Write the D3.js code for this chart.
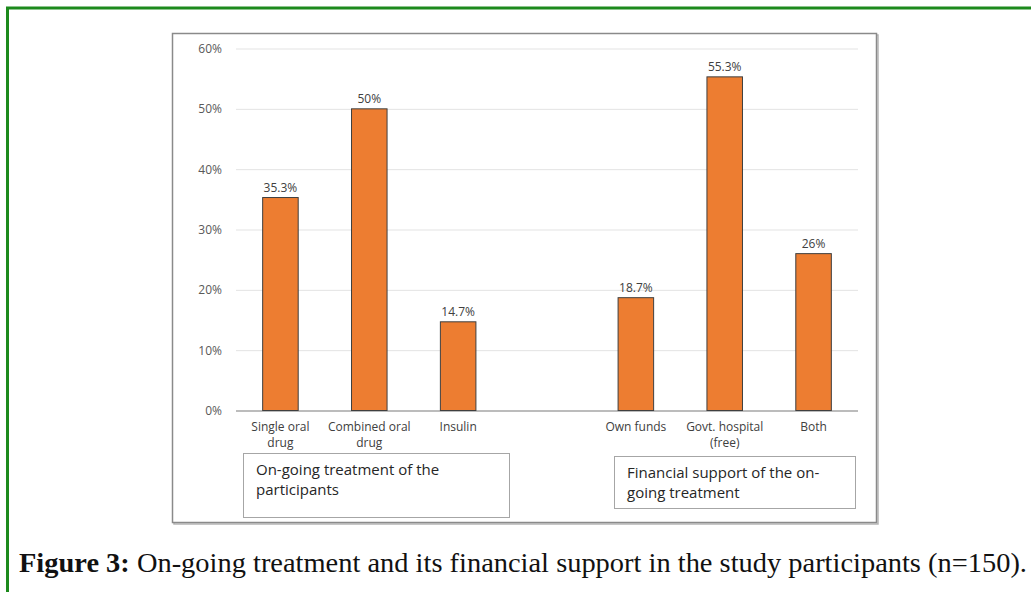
<!DOCTYPE html>
<html>
<head>
<meta charset="utf-8">
<script src="https://cdn.jsdelivr.net/npm/d3@7"></script>
<style>
  html, body { margin: 0; padding: 0; background: #fff; }
  svg { display: block; }
</style>
</head>
<body>
<svg id="chart" width="1031" height="592"></svg>
<script>
// Category slots along the x axis; the blank key separates the two groups.
const slots = ["single", "combined", "insulin", "gap", "own", "govt", "both"];
const categoryLabels = [
  ["Single oral", "drug"],
  ["Combined oral", "drug"],
  ["Insulin"],
  [],
  ["Own funds"],
  ["Govt. hospital", "(free)"],
  ["Both"]
];
const values = [35.3, 50, 14.7, null, 18.7, 55.3, 26];
const valueLabels = ["35.3%", "50%", "14.7%", "", "18.7%", "55.3%", "26%"];
const yTicks = [0, 10, 20, 30, 40, 50, 60];
const groupTitles = [
  ["On-going treatment of the", "participants"],
  ["Financial support of the on-", "going treatment"]
];
const caption = ["Figure 3:", " On-going treatment and its financial support in the study participants (n=150)."];

const svg = d3.select("#chart");
const sans = "'Open Sans', 'Liberation Sans', sans-serif";

// Outer green page frame
svg.append("rect")
  .attr("x", 7.5).attr("y", 8)
  .attr("width", 1040).attr("height", 620)
  .attr("fill", "none")
  .attr("stroke", "#1c8a1c")
  .attr("stroke-width", 3);

// Chart frame with a faint drop shadow
svg.append("rect")
  .attr("x", 174).attr("y", 35).attr("width", 704).attr("height", 489)
  .attr("fill", "none").attr("stroke", "#b5b5b5").attr("stroke-width", 1.5);
svg.append("rect")
  .attr("x", 172.5).attr("y", 33.5).attr("width", 704).attr("height", 489)
  .attr("fill", "#fff").attr("stroke", "#8a8a8a").attr("stroke-width", 1.5);

const plot = { left: 236, right: 858, top: 48.5, bottom: 410.5 };

const x = d3.scaleBand()
  .domain(slots)
  .range([plot.left, plot.right])
  .paddingInner(0.6)
  .paddingOuter(0.3);

const y = d3.scaleLinear()
  .domain([0, 60])
  .range([plot.bottom, plot.top]);

// Gridlines and y tick labels
const yAxis = svg.append("g")
  .attr("transform", `translate(${plot.left},0)`)
  .call(d3.axisLeft(y)
    .tickValues(yTicks)
    .tickSize(-(plot.right - plot.left))
    .tickPadding(14)
    .tickFormat(d => d + "%"));
yAxis.select(".domain").remove();
yAxis.selectAll(".tick line")
  .attr("stroke", d => d === 0 ? "#a6a6a6" : "#e3e3e3")
  .attr("stroke-width", d => d === 0 ? 1.3 : 1);
yAxis.selectAll(".tick text")
  .attr("fill", "#595959")
  .style("font-family", sans)
  .style("font-size", "12px");

// Bars
const bars = slots.map((s, i) => ({ key: s, value: values[i], label: valueLabels[i] }))
  .filter(d => d.value !== null);

svg.append("g").selectAll("rect")
  .data(bars)
  .join("rect")
  .attr("x", d => x(d.key))
  .attr("y", d => y(d.value))
  .attr("width", x.bandwidth())
  .attr("height", d => y(0) - y(d.value))
  .attr("fill", "#ED7D31")
  .attr("stroke", "#3f3f3f")
  .attr("stroke-width", 1);

// Value labels above bars
svg.append("g").selectAll("text")
  .data(bars)
  .join("text")
  .attr("x", d => x(d.key) + x.bandwidth() / 2)
  .attr("y", d => y(d.value) - 6)
  .attr("text-anchor", "middle")
  .attr("fill", "#404040")
  .style("font-family", sans)
  .style("font-size", "12px")
  .text(d => d.label);

// Category labels (multi-line)
const catG = svg.append("g");
slots.forEach((s, i) => {
  const t = catG.append("text")
    .attr("text-anchor", "middle")
    .attr("fill", "#404040")
    .style("font-family", sans)
    .style("font-size", "12px");
  categoryLabels[i].forEach((line, j) => {
    t.append("tspan")
      .attr("x", x(s) + x.bandwidth() / 2)
      .attr("y", plot.bottom + 20 + j * 16)
      .text(line);
  });
});

// Group title boxes
const boxes = [
  { x: 243.5, y: 453.5, w: 266, h: 64, tx: 256 },
  { x: 614.5, y: 456.5, w: 241, h: 52, tx: 627 }
];
boxes.forEach((b, i) => {
  svg.append("rect")
    .attr("x", b.x).attr("y", b.y).attr("width", b.w).attr("height", b.h)
    .attr("fill", "#fff").attr("stroke", "#a6a6a6").attr("stroke-width", 1);
  const t = svg.append("text")
    .attr("fill", "#262626")
    .style("font-family", sans)
    .style("font-size", "15px");
  groupTitles[i].forEach((line, j) => {
    t.append("tspan")
      .attr("x", b.tx)
      .attr("y", b.y + 21 + j * 20)
      .text(line);
  });
});

// Figure caption
const cap = svg.append("text")
  .attr("x", 19).attr("y", 572)
  .attr("textLength", 1008)
  .attr("lengthAdjust", "spacingAndGlyphs")
  .attr("fill", "#111")
  .style("font-family", "'Liberation Serif', 'DejaVu Serif', serif")
  .style("font-size", "27px");
cap.append("tspan").attr("font-weight", "bold").text(caption[0]);
cap.append("tspan").text(caption[1]);
</script>
</body>
</html>
